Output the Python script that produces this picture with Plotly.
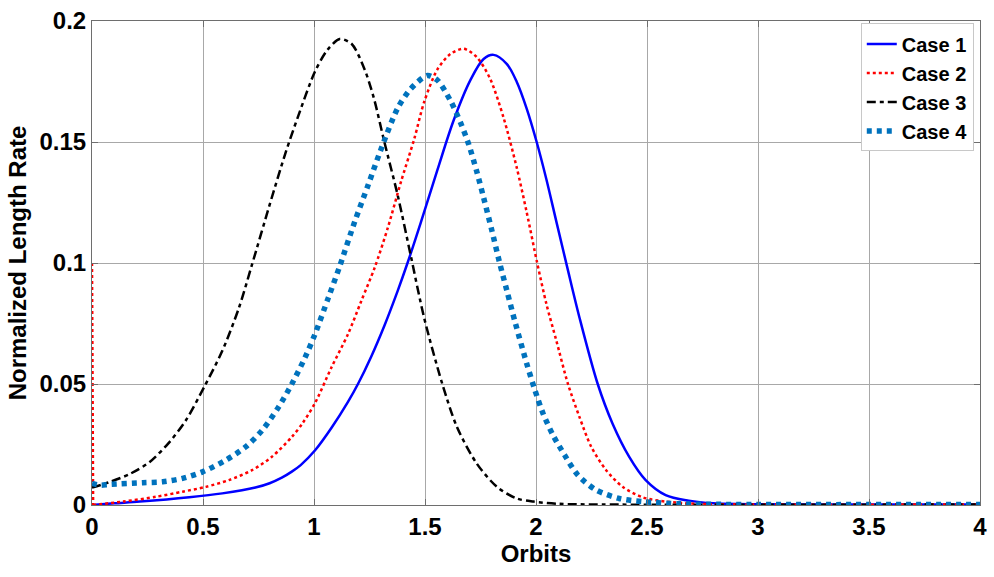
import plotly.graph_objects as go

# Case 1 (solid blue)
x_case1 = [0, 0.1, 0.215, 0.438, 0.587, 0.736, 0.8, 0.855, 0.9, 0.94, 1.004, 1.079, 1.153,
           1.198, 1.258, 1.317, 1.377, 1.422, 1.481, 1.556, 1.63, 1.705, 1.764, 1.809,
           1.869, 1.913, 1.958, 2.003, 2.047, 2.092, 2.14, 2.196, 2.278, 2.345, 2.42, 2.494,
           2.584, 2.688, 2.8, 3.0, 3.5, 4.0]
y_case1 = [0, 0.0007, 0.0014, 0.0032, 0.0048, 0.0072, 0.009, 0.0113, 0.0138, 0.0165, 0.0225,
           0.0319, 0.0426, 0.050, 0.0614, 0.0741, 0.0885, 0.1002, 0.1167, 0.1385, 0.1592,
           0.1757, 0.1843, 0.186, 0.1822, 0.1749, 0.1638, 0.150, 0.1345, 0.117, 0.0985,
           0.0774, 0.050, 0.0336, 0.0199, 0.0103, 0.0041, 0.0018, 0.0007, 0.0003, 0.0002,
           0.0002]

# Case 2 (red dotted); the first sample sits at 0.1 on the y axis
x_case2_start = [0, 0.005]
y_case2_start = [0.1, 0]
x_case2 = [0.005, 0.14, 0.289, 0.408, 0.513, 0.617, 0.721, 0.81, 0.9, 0.95, 1.004, 1.079,
           1.153, 1.213, 1.273, 1.332, 1.392, 1.452, 1.496, 1.556, 1.615, 1.675, 1.734,
           1.794, 1.854, 1.913, 1.958, 2.003, 2.047, 2.092, 2.144, 2.196, 2.249, 2.316,
           2.39, 2.48, 2.584, 2.73, 3.0, 4.0]
y_case2 = [0, 0.0014, 0.0034, 0.0055, 0.0075, 0.0103, 0.0144, 0.0199, 0.0281, 0.034, 0.042,
           0.0569, 0.0706, 0.0843, 0.098, 0.1144, 0.1336, 0.1514, 0.1665, 0.180, 0.1864,
           0.1885, 0.185, 0.176, 0.160, 0.1395, 0.121, 0.101, 0.083, 0.0678, 0.050, 0.0363,
           0.024, 0.0144, 0.0075, 0.0032, 0.0014, 0.0005, 0.0002, 0.0002]

# Case 3 (black dash-dot)
x_case3 = [0, 0.08, 0.17, 0.26, 0.349, 0.423, 0.505, 0.587, 0.662, 0.721, 0.80, 0.87, 0.93,
           1.004, 1.06, 1.116, 1.17, 1.228, 1.27, 1.317, 1.377, 1.436, 1.496, 1.578, 1.645,
           1.734, 1.824, 1.913, 1.988, 2.1, 2.3, 4.0]
y_case3 = [0.0072, 0.0095, 0.0128, 0.0178, 0.026, 0.035, 0.0487, 0.0637, 0.0815, 0.0994,
           0.124, 0.145, 0.161, 0.179, 0.188, 0.1926, 0.1905, 0.180, 0.168, 0.150, 0.128,
           0.103, 0.0774, 0.050, 0.032, 0.017, 0.0075, 0.0027, 0.0014, 0.0005, 0.0002, 0.0002]

# Case 4 (thick blue dotted)
x_case4 = [0, 0.036, 0.08, 0.229, 0.319, 0.408, 0.498, 0.602, 0.692, 0.766, 0.84, 0.9, 0.96,
           1.004, 1.064, 1.116, 1.183, 1.243, 1.302, 1.377, 1.436, 1.511, 1.556, 1.615, 1.66,
           1.697, 1.734, 1.764, 1.801, 1.835, 1.869, 1.906, 1.958, 1.995, 2.033, 2.077,
           2.129, 2.189, 2.271, 2.375, 2.48, 2.65, 3.0, 4.0]
y_case4 = [0.0089, 0.0082, 0.0085, 0.0092, 0.0096, 0.011, 0.0137, 0.0185, 0.024, 0.0308,
           0.0404, 0.050, 0.061, 0.0705, 0.0855, 0.0987, 0.117, 0.132, 0.147, 0.164, 0.172,
           0.1775, 0.1755, 0.167, 0.158, 0.149, 0.1375, 0.127, 0.1135, 0.1005, 0.0885,
           0.0755, 0.0585, 0.0475, 0.0375, 0.0288, 0.0206, 0.0123, 0.0062, 0.0027, 0.0014,
           0.0005, 0.0002, 0.0002]

x_ticks = [0, 0.5, 1, 1.5, 2, 2.5, 3, 3.5, 4]
y_ticks = [0, 0.05, 0.1, 0.15, 0.2]
y_tick_text = ["0", "0.05", "0.1", "0.15", "0.2"]

FONT = "Liberation Sans, Arial, sans-serif"

fig = go.Figure()
fig.add_trace(go.Scatter(x=x_case1, y=y_case1, mode="lines", name="Case 1",
                         line=dict(color="#0000FF", width=2.5, shape="spline", smoothing=0.9)))
fig.add_trace(go.Scatter(x=x_case2, y=y_case2, mode="lines", name="Case 2", legendgroup="c2",
                         line=dict(color="#FF0000", width=2.5, dash="3px,3px",
                                   shape="spline", smoothing=0.8)))
fig.add_trace(go.Scatter(x=x_case2_start, y=y_case2_start, mode="lines", name="Case 2",
                         legendgroup="c2", showlegend=False,
                         line=dict(color="#FF0000", width=2.5, dash="3px,3px")))
fig.add_trace(go.Scatter(x=x_case3, y=y_case3, mode="lines", name="Case 3",
                         line=dict(color="#000000", width=2.5, dash="9px,4px,4px,4px",
                                   shape="spline", smoothing=0.8)))
fig.add_trace(go.Scatter(x=x_case4, y=y_case4, mode="lines", name="Case 4",
                         line=dict(color="#0072BD", width=5.5, dash="5px,5px",
                                   shape="spline", smoothing=0.8)))

axis_common = dict(
    showline=True, linecolor="#6e6e6e", linewidth=1, mirror="ticks",
    showgrid=True, gridcolor="#a8a8a8", gridwidth=1,
    ticks="inside", ticklen=6, tickcolor="#6e6e6e",
    zeroline=False, ticklabeloverflow="allow",
    tickfont=dict(family=FONT, size=24, color="#000000", weight="bold"),
)

fig.update_xaxes(range=[0, 4], tickvals=x_ticks, ticktext=[f"{v:g}" for v in x_ticks],
                 title=dict(text="Orbits", font=dict(family=FONT, size=24, color="#000000",
                                                     weight="bold"), standoff=5),
                 **axis_common)
fig.update_yaxes(range=[0, 0.2], tickvals=y_ticks, ticktext=y_tick_text,
                 title=dict(text="Normalized Length Rate",
                            font=dict(family=FONT, size=24, color="#000000", weight="bold"),
                            standoff=6),
                 **axis_common)

fig.update_layout(
    width=994, height=577,
    margin=dict(l=92, r=7, t=20, b=72),
    paper_bgcolor="#FFFFFF", plot_bgcolor="#FFFFFF",
    font=dict(family=FONT, color="#000000"),
    showlegend=True,
    legend=dict(x=0.993, y=0.995, xanchor="right", yanchor="top",
                bgcolor="#FFFFFF", bordercolor="#c8c8c8", borderwidth=1,
                font=dict(family=FONT, size=20, color="#000000", weight="bold"),
                itemwidth=30, tracegroupgap=0),
)

fig.write_html("out.html")
